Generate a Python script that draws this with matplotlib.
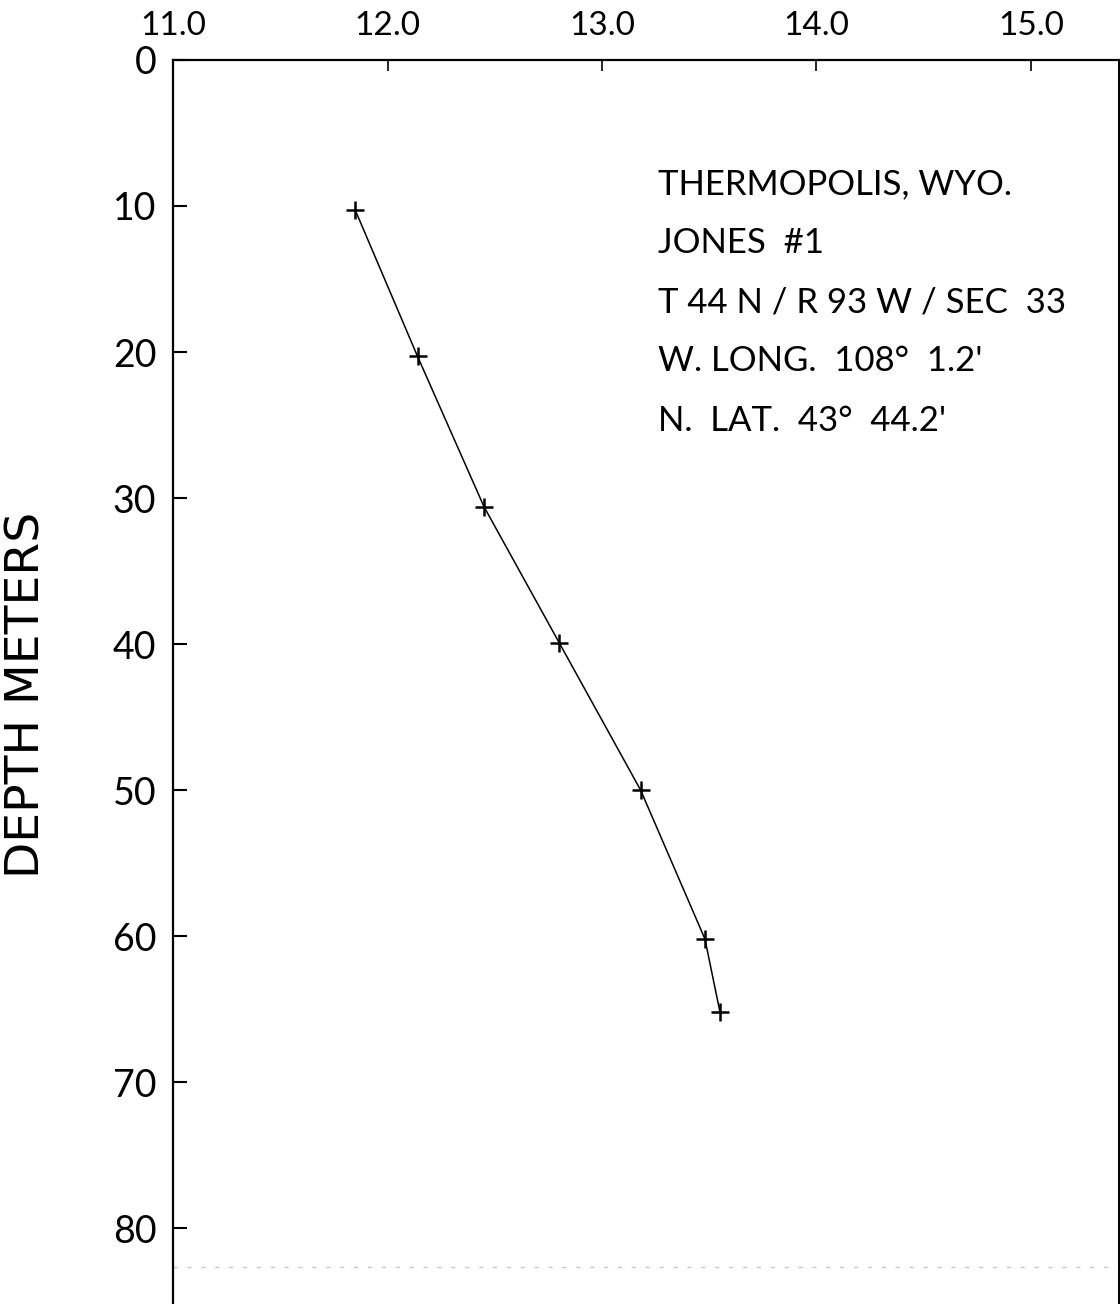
import matplotlib.pyplot as plt

# data (temperature in deg C, depth in meters)
temps = [11.85, 12.14, 12.45, 12.80, 13.18, 13.48, 13.55]
depths = [10.3, 20.3, 30.6, 39.9, 50.0, 60.2, 65.2]

x_ticks = [11.0, 12.0, 13.0, 14.0, 15.0]
x_labels = ["11.0", "12.0", "13.0", "14.0", "15.0"]
y_ticks = [0, 10, 20, 30, 40, 50, 60, 70, 80]

info_lines = [
    "THERMOPOLIS, WYO.",
    "JONES  #1",
    "T 44 N / R 93 W / SEC  33",
    "W. LONG.  108\u00b0  1.2'",
    "N.  LAT.  43\u00b0  44.2'",
]

fam = ["Lato", "DejaVu Sans"]
plt.rcParams["font.family"] = fam

fig = plt.figure(figsize=(11.2, 13.04), dpi=100)
ax = fig.add_axes([0.1545, 0.0, 0.8445, 0.954])

ax.plot(temps, depths, color="black", linewidth=1.1)
ax.plot(temps, depths, linestyle="none", marker="+", markersize=13,
        markeredgewidth=1.8, color="black")

# faint dashed trace near the bottom of the sheet
ax.axhline(82.7, color="#c8c8c8", linewidth=1.0, linestyle=(0, (3, 7)))

ax.set_xlim(11.01, 15.41)
ax.set_ylim(85.2, 0)

ax.xaxis.tick_top()
ax.set_xticks(x_ticks)
ax.set_xticklabels(x_labels)
ax.set_yticks(y_ticks)

ax.tick_params(axis="x", direction="in", length=8, width=1.2, pad=14,
               labelsize=24, top=True, bottom=False)
ax.tick_params(axis="y", direction="in", length=10, width=1.5, pad=12,
               labelsize=27, left=True, right=False)

ax.spines["bottom"].set_visible(False)
ax.spines["left"].set_linewidth(1.6)
ax.spines["top"].set_linewidth(1.6)
ax.spines["right"].set_linewidth(1.4)

ax.set_ylabel("DEPTH METERS", fontsize=34, family=["DejaVu Sans"])
ax.yaxis.set_label_coords(-0.131, 0.49)

for i, line in enumerate(info_lines):
    ax.text(13.26, 8.5 + i * 4.05, line, fontsize=25, va="center", ha="left")

fig.savefig("out.png", dpi=100)
